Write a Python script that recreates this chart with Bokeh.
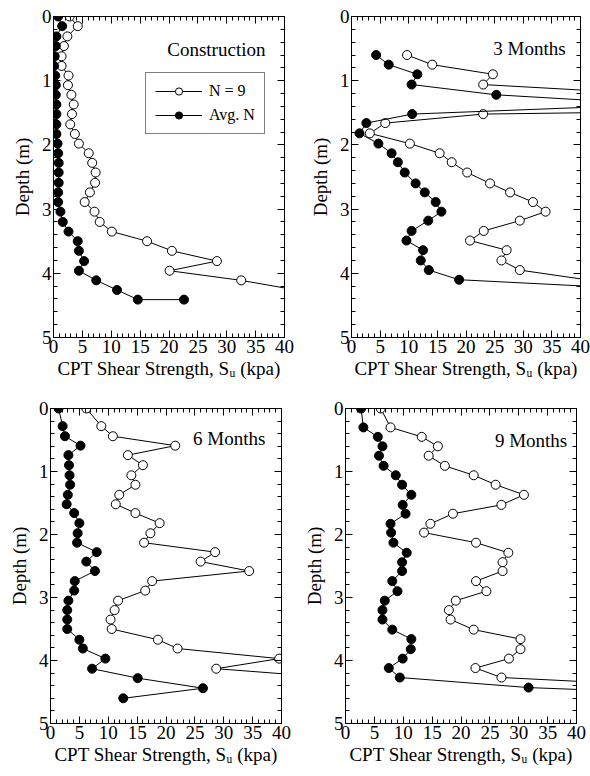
from bokeh.plotting import figure
from bokeh.models import (Range1d, LinearAxis, SingleIntervalTicker, Label,
                          Legend, LegendItem, CustomJSTickFormatter)
from bokeh.layouts import column, row
from bokeh.embed import file_html
from bokeh.resources import INLINE

FONT = "Liberation Serif"

# ---------------- data ----------------
# Construction
c_depth_n9 = [0.0, 0.15, 0.31, 0.46, 0.62, 0.77, 0.92, 1.07, 1.22, 1.37, 1.52, 1.68,
              1.83, 1.98, 2.13, 2.28, 2.43, 2.59, 2.74, 2.89, 3.04, 3.2, 3.35, 3.5,
              3.65, 3.81, 3.96, 4.11, 4.26]
c_su_n9 = [2.8, 4.2, 2.4, 1.8, 1.4, 1.4, 2.6, 2.5, 3.1, 3.5, 3.2, 2.9, 3.7, 4.4, 6.1,
           6.7, 7.3, 7.2, 6.3, 5.4, 7.1, 8.0, 10.1, 16.2, 20.5, 28.3, 20.1, 32.5, 42.0]
c_depth_avg = [0.0, 0.15, 0.31, 0.46, 0.62, 0.77, 0.92, 1.07, 1.22, 1.37, 1.52, 1.68,
               1.83, 1.98, 2.13, 2.28, 2.43, 2.59, 2.74, 2.89, 3.04, 3.2, 3.35, 3.5,
               3.65, 3.81, 3.96, 4.11, 4.26, 4.41, 4.41]
c_su_avg = [0.8, 1.5, 0.5, 0.4, 0.2, 0.1, 0.3, 0.4, 0.4, 0.5, 0.5, 0.5, 0.5, 0.7, 0.8,
            0.9, 0.9, 0.9, 0.8, 0.8, 1.2, 1.6, 2.6, 4.2, 4.4, 5.3, 4.4, 7.4, 11.0, 14.6, 22.6]

# 3 Months
m3_depth_n9 = [0.6, 0.75, 0.9, 1.06, 1.22, 1.37, 1.52, 1.66, 1.82, 1.98, 2.13, 2.27,
               2.43, 2.6, 2.74, 2.89, 3.04, 3.18, 3.34, 3.49, 3.64, 3.8, 3.95, 4.1]
m3_su_n9 = [9.7, 14.1, 24.7, 23.0, 55.0, 150.0, 23.0, 5.9, 3.2, 10.2, 15.4, 17.5, 20.2,
            24.2, 27.7, 31.7, 33.9, 29.4, 23.1, 20.7, 27.1, 26.2, 29.4, 41.0]
m3_depth_avg = [0.6, 0.75, 0.9, 1.06, 1.22, 1.37, 1.52, 1.66, 1.82, 1.98, 2.13, 2.27,
                2.43, 2.6, 2.74, 2.89, 3.04, 3.18, 3.34, 3.49, 3.64, 3.8, 3.95, 4.1, 4.25]
m3_su_avg = [4.3, 6.5, 11.5, 10.5, 25.3, 54.0, 10.6, 2.6, 1.4, 4.7, 7.0, 8.1, 9.3, 11.2,
             12.8, 14.7, 15.7, 13.4, 10.5, 9.6, 12.5, 12.1, 13.5, 18.8, 52.0]

# 6 Months
m6_depth_n9 = [0.0, 0.28, 0.44, 0.59, 0.74, 0.9, 1.06, 1.21, 1.37, 1.52, 1.66, 1.82,
               1.98, 2.13, 2.28, 2.43, 2.58, 2.74, 2.89, 3.05, 3.2, 3.35, 3.5, 3.67,
               3.81, 3.97, 4.13, 4.28]
m6_su_n9 = [6.2, 8.8, 10.8, 21.6, 13.4, 16.0, 14.0, 14.7, 11.9, 11.3, 14.7, 18.9, 17.3,
            16.2, 28.5, 26.0, 34.4, 17.6, 16.4, 11.7, 11.1, 10.4, 10.6, 18.6, 22.0, 39.6,
            28.7, 50.0]
m6_depth_avg = [0.0, 0.28, 0.44, 0.59, 0.74, 0.9, 1.06, 1.21, 1.37, 1.52, 1.66, 1.82,
                1.98, 2.13, 2.28, 2.43, 2.58, 2.74, 2.89, 3.05, 3.2, 3.35, 3.5, 3.67,
                3.81, 3.97, 4.13, 4.28, 4.44, 4.6]
m6_su_avg = [1.4, 2.1, 2.5, 5.2, 3.1, 3.2, 3.3, 3.4, 3.0, 2.8, 4.1, 5.0, 4.7, 4.6, 8.0,
             6.2, 7.7, 4.2, 4.1, 3.1, 2.9, 2.9, 2.9, 5.0, 5.6, 9.5, 7.2, 15.1, 26.4, 12.6]

# 9 Months
m9_depth_n9 = [0.0, 0.3, 0.45, 0.6, 0.75, 0.91, 1.06, 1.21, 1.37, 1.53, 1.67, 1.83,
               1.97, 2.13, 2.29, 2.44, 2.58, 2.74, 2.9, 3.05, 3.2, 3.35, 3.51, 3.66,
               3.82, 3.97, 4.12, 4.27, 4.43]
m9_su_n9 = [6.1, 7.8, 13.2, 16.0, 14.4, 17.2, 22.2, 26.0, 30.9, 27.0, 18.6, 14.7, 13.6,
            22.6, 28.2, 27.2, 27.2, 22.6, 24.4, 19.1, 17.9, 18.2, 22.2, 30.3, 30.3, 28.3,
            22.5, 27.0, 62.0]
m9_depth_avg = [0.0, 0.3, 0.45, 0.6, 0.75, 0.91, 1.06, 1.21, 1.37, 1.53, 1.67, 1.83,
                1.97, 2.13, 2.29, 2.44, 2.58, 2.74, 2.9, 3.05, 3.2, 3.35, 3.51, 3.66,
                3.82, 3.97, 4.12, 4.27, 4.43, 4.59]
m9_su_avg = [2.7, 3.1, 5.6, 6.4, 5.8, 6.6, 8.7, 9.8, 11.4, 9.9, 10.4, 7.8, 7.9, 8.3,
             10.6, 9.8, 9.8, 8.1, 9.0, 6.8, 6.4, 6.4, 8.1, 11.4, 11.3, 9.9, 7.5, 9.4,
             31.7, 78.0]

x_ticks_interval = 5
y_ticks_interval = 1
legend_labels = ["N = 9", "Avg. N"]
panel_titles = ["Construction", "3 Months", "6 Months", "9 Months"]
x_label = "CPT Shear Strength, S\u1d64 (kpa)"
y_label = "Depth (m)"


def style_axis(ax, interval, show_labels):
    ax.ticker = SingleIntervalTicker(interval=interval, num_minor_ticks=5)
    ax.axis_line_color = "black"
    ax.axis_line_width = 1
    ax.major_tick_line_color = "black"
    ax.minor_tick_line_color = "black"
    ax.major_tick_in = 7
    ax.major_tick_out = 0
    ax.minor_tick_in = 4
    ax.minor_tick_out = 0
    ax.major_label_text_font = FONT
    ax.major_label_text_font_size = "19px"
    ax.major_label_text_color = "black"
    ax.major_label_standoff = 2
    ax.axis_label_text_font = FONT
    ax.axis_label_text_font_size = "19px"
    ax.axis_label_text_font_style = "normal"
    ax.axis_label_text_color = "black"
    if not show_labels:
        ax.formatter = CustomJSTickFormatter(code="return ''")


def panel(title, tx, ty, d_n9, s_n9, d_avg, s_avg, w, h, bl, br, bt, bb,
          legend_loc=None):
    p = figure(width=w, height=h, x_range=Range1d(0, 40), y_range=Range1d(5, 0),
               output_backend="svg", toolbar_location=None,
               min_border_left=bl, min_border_right=br,
               min_border_top=bt, min_border_bottom=bb)
    p.xgrid.visible = False
    p.ygrid.visible = False
    p.outline_line_color = "black"
    p.outline_line_width = 1
    p.background_fill_color = "white"
    p.border_fill_color = "white"

    style_axis(p.xaxis[0], x_ticks_interval, True)
    style_axis(p.yaxis[0], y_ticks_interval, True)
    p.xaxis[0].axis_label = x_label
    p.xaxis[0].axis_label_standoff = 2
    p.yaxis[0].axis_label = y_label
    p.yaxis[0].axis_label_standoff = 6

    top = LinearAxis()
    style_axis(top, x_ticks_interval, False)
    p.add_layout(top, "above")
    right = LinearAxis()
    style_axis(right, y_ticks_interval, False)
    p.add_layout(right, "right")

    l1 = p.line(s_n9, d_n9, line_color="black", line_width=1)
    r1 = p.scatter(s_n9, d_n9, marker="circle", size=9, fill_color="white",
                   line_color="black", line_width=1)
    l2 = p.line(s_avg, d_avg, line_color="black", line_width=1)
    r2 = p.scatter(s_avg, d_avg, marker="circle", size=9, fill_color="black",
                   line_color="black", line_width=1)

    p.add_layout(Label(x=tx, y=ty, text=title, text_font=FONT,
                       text_font_size="19px", text_align="right",
                       text_baseline="middle", text_color="black"))

    if legend_loc is not None:
        leg = Legend(items=[LegendItem(label=legend_labels[0], renderers=[l1, r1]),
                            LegendItem(label=legend_labels[1], renderers=[l2, r2])],
                     location=legend_loc)
        leg.label_text_font = FONT
        leg.label_text_font_size = "16px"
        leg.label_text_color = "black"
        leg.border_line_color = "black"
        leg.border_line_width = 1.5
        leg.background_fill_color = "white"
        leg.background_fill_alpha = 1
        leg.padding = 9
        leg.spacing = 6
        leg.margin = 0
        leg.glyph_width = 47
        leg.glyph_height = 18
        leg.label_height = 18
        leg.label_standoff = 7
        p.add_layout(leg)
    return p


p1 = panel(panel_titles[0], 36.7, 0.51, c_depth_n9, c_su_n9, c_depth_avg, c_su_avg,
           295, 390, 53, 11, 15, 53, legend_loc=(92, 203))
p2 = panel(panel_titles[1], 37.4, 0.5, m3_depth_n9, m3_su_n9, m3_depth_avg, m3_su_avg,
           295, 390, 56, 10, 16, 53)
p3 = panel(panel_titles[2], 37.2, 0.47, m6_depth_n9, m6_su_n9, m6_depth_avg, m6_su_avg,
           295, 386, 50, 14, 14, 53)
p4 = panel(panel_titles[3], 38.4, 0.5, m9_depth_n9, m9_su_n9, m9_depth_avg, m9_su_avg,
           295, 386, 50, 14, 18, 51)

layout = column(row(p1, p2), row(p3, p4))

with open("out.html", "w") as f:
    f.write(file_html(layout, INLINE))
